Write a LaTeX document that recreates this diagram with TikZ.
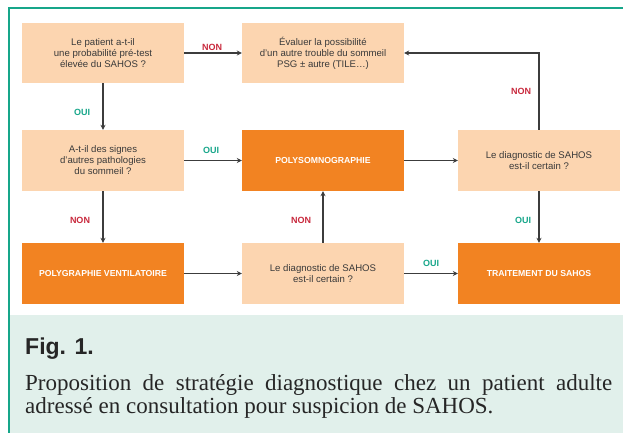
\documentclass[tikz,border=0pt]{standalone}
\usepackage{fontspec}
\setmainfont{Liberation Serif}
\setsansfont{Liberation Sans}
\usetikzlibrary{arrows.meta}
\definecolor{peach}{HTML}{FCD5B0}
\definecolor{orng}{HTML}{F28322}
\definecolor{tealg}{HTML}{17A68A}
\definecolor{nonred}{HTML}{C8283C}
\definecolor{capbg}{HTML}{E1F0EB}
\definecolor{linec}{HTML}{3C3C3C}
\definecolor{txt}{HTML}{3A3A3A}
\definecolor{captxt}{HTML}{262626}
\begin{document}
\begin{tikzpicture}[x=1pt,y=-1pt,
  qbox/.style={fill=peach, minimum width=162pt, minimum height=61pt, inner sep=0pt, align=center,
    font=\sffamily\fontsize{9.6}{11}\selectfont, text=txt},
  obox/.style={fill=orng, minimum width=162pt, minimum height=61pt, inner sep=0pt, align=center,
    font=\sffamily\bfseries\fontsize{8.7}{10}\selectfont, text=white},
  arr/.style={draw=linec, line width=1.2pt, -{Stealth[length=5pt,width=5pt]}},
  lab/.style={font=\sffamily\bfseries\fontsize{9}{10}\selectfont, inner sep=0pt},
  nonl/.style={lab, text=nonred},
  ouil/.style={lab, text=tealg}]
\useasboundingbox (0,0) rectangle (623,433);
% frame and caption background
\fill[capbg] (10,315) rectangle (623,433);
\draw[tealg, line width=2pt] (9,433) -- (9,8.3) -- (623,8.3);
% boxes
\node[qbox, minimum height=60pt] (b1) at (103,53) {Le patient a-t-il\\une probabilité pré-test\\élevée du SAHOS ?};
\node[qbox, minimum height=60pt] (b2) at (323,53) {Évaluer la possibilité\\d’un autre trouble du sommeil\\PSG ± autre (TILE…)};
\node[qbox] (b3) at (103,160.5) {A-t-il des signes\\d’autres pathologies\\du sommeil ?};
\node[obox] (b4) at (323,160.5) {POLYSOMNOGRAPHIE};
\node[qbox] (b5) at (539,160.5) {Le diagnostic de SAHOS\\est-il certain ?};
\node[obox] (b6) at (103,273.5) {POLYGRAPHIE VENTILATOIRE};
\node[qbox] (b7) at (323,273.5) {Le diagnostic de SAHOS\\est-il certain ?};
\node[obox] (b8) at (539,273.5) {TRAITEMENT DU SAHOS};
% connectors
\draw[arr] (b1) -- (b2);
\draw[arr] (b1) -- (b3);
\draw[arr] (b3) -- (b4);
\draw[arr] (b3) -- (b6);
\draw[arr] (b6) -- (b7);
\draw[arr] (b7) -- (b4);
\draw[arr] (b4) -- (b5);
\draw[arr] (b5) -- (b8);
\draw[arr] (b7) -- (b8);
\draw[arr] (b5.north) |- (b2.east);
% labels
\node[nonl] (l1) at (212,47.5) {NON};
\node[ouil] (l2) at (82,112) {OUI};
\node[ouil] (l3) at (211,150) {OUI};
\node[nonl] (l4) at (80,220) {NON};
\node[nonl] (l5) at (301,220) {NON};
\node[nonl] (l6) at (521,91) {NON};
\node[ouil] (l7) at (523,220) {OUI};
\node[ouil] (l8) at (431,263) {OUI};
% caption
\node[anchor=base west, inner sep=0pt, text=captxt, font=\sffamily\bfseries\fontsize{23}{23}\selectfont] (fig) at (25,354) {Fig. 1.};
\node[anchor=base west, inner sep=0pt, text=captxt, font=\fontsize{23}{23}\selectfont] (c1) at (25,390) {\makebox[587pt][s]{Proposition de stratégie diagnostique chez un patient adulte}};
\node[anchor=base west, inner sep=0pt, text=captxt, font=\fontsize{23}{23}\selectfont] (c2) at (25,413) {adressé en consultation pour suspicion de SAHOS.};
\end{tikzpicture}
\end{document}
